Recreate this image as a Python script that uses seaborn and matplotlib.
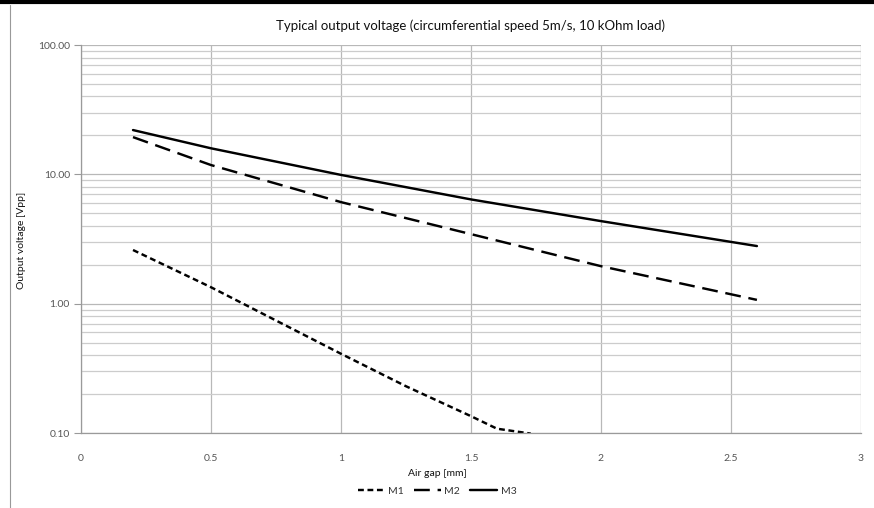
import matplotlib
matplotlib.use("Agg")
import matplotlib.pyplot as plt
import seaborn as sns
import pandas as pd
from matplotlib.lines import Line2D
from matplotlib.ticker import FixedLocator, FuncFormatter, NullFormatter

# Data
m1_gap = [0.2, 0.5, 1.0, 1.25, 1.5, 1.6, 1.73]
m1_volt = [2.6, 1.34, 0.41, 0.23, 0.135, 0.108, 0.099]
m2_gap = [0.2, 0.5, 1.0, 1.5, 2.0, 2.6]
m2_volt = [19.4, 11.8, 6.1, 3.45, 1.95, 1.07]
m3_gap = [0.2, 0.5, 1.0, 1.5, 2.0, 2.6]
m3_volt = [22.0, 15.9, 9.9, 6.4, 4.35, 2.79]

series_names = ["M1", "M2", "M3"]
x_ticks = [0, 0.5, 1, 1.5, 2, 2.5, 3]
x_tick_labels = ["0", "0.5", "1", "1.5", "2", "2.5", "3"]
y_ticks = [0.1, 1, 10, 100]

title = "Typical output voltage (circumferential speed 5m/s, 10 kOhm load)"
x_label = "Air gap [mm]"
y_label = "Output voltage [Vpp]"

sns.set_theme(style="white")
plt.rcParams["font.family"] = ["Lato", "DejaVu Sans"]

df = pd.concat([
    pd.DataFrame({"gap": m1_gap, "volt": m1_volt, "series": "M1"}),
    pd.DataFrame({"gap": m2_gap, "volt": m2_volt, "series": "M2"}),
    pd.DataFrame({"gap": m3_gap, "volt": m3_volt, "series": "M3"}),
])

LW = 1.75
D1 = (2.4, 1.5)
D2 = (6.5, 3.2)

fig = plt.figure(figsize=(8.74, 5.08), dpi=100)
ax = fig.add_axes([0.0927, 0.1476, 0.8923, 0.7638])

sns.lineplot(data=df, x="gap", y="volt", style="series", hue="series",
             palette={"M1": "black", "M2": "black", "M3": "black"},
             dashes={"M1": D1, "M2": D2, "M3": ""},
             linewidth=LW, ax=ax, legend=False, sort=False)

ax.set_yscale("log")
ax.set_xlim(0, 3)
ax.set_ylim(0.1, 100)

# gridlines
ax.yaxis.set_major_locator(FixedLocator(y_ticks))
minor = [m * 10 ** e for e in (-1, 0, 1) for m in range(2, 10)]
ax.yaxis.set_minor_locator(FixedLocator(minor))
ax.yaxis.set_minor_formatter(NullFormatter())
ax.yaxis.set_major_formatter(FuncFormatter(lambda v, p: f"{v:.2f}"))
ax.set_xticks(x_ticks)
ax.set_xticklabels(x_tick_labels)
ax.grid(which="major", axis="both", color="#b8b8b8", linewidth=0.9)
ax.grid(which="minor", axis="y", color="#cccccc", linewidth=0.9)
ax.set_axisbelow(True)

for s in ["top", "right"]:
    ax.spines[s].set_visible(False)
for s in ["left", "bottom"]:
    ax.spines[s].set_color("#9a9a9a")
    ax.spines[s].set_linewidth(0.9)

ax.tick_params(axis="y", which="major", left=True, length=5, width=0.8, color="#9a9a9a",
               labelsize=7.5, labelcolor="#555555", pad=3)
ax.tick_params(axis="y", which="minor", left=False)
ax.tick_params(axis="x", bottom=False, labelsize=7.5, labelcolor="#555555", pad=9)

ax.set_title(title, fontsize=9.5, color="#111111", pad=11)
ax.set_xlabel("")
ax.set_ylabel("")
fig.text(437 / 874, 1 - 473 / 508, x_label, ha="center", va="center",
         fontsize=7.5, color="#111111")
fig.text(22 / 874, 1 - 240 / 508, y_label, ha="center", va="center", rotation=90,
         fontsize=7.5, color="#111111")

handles = [
    Line2D([], [], color="black", lw=LW, dashes=D1),
    Line2D([], [], color="black", lw=LW, dashes=D2),
    Line2D([], [], color="black", lw=LW),
]
fig.legend(handles, series_names, loc="center", bbox_to_anchor=(437 / 874, 1 - 491 / 508), ncol=3,
           frameon=False, fontsize=7.5, handlelength=2.6, handletextpad=0.3,
           columnspacing=1.0, labelcolor="#333333")

# page frame lines
fig.add_artist(Line2D([0, 1], [0.996, 0.996], transform=fig.transFigure, color="black", lw=3))
fig.add_artist(Line2D([0.0115, 0.0115], [0, 0.99], transform=fig.transFigure, color="#999999", lw=0.8))

fig.savefig("out.png", dpi=100, facecolor="white")
